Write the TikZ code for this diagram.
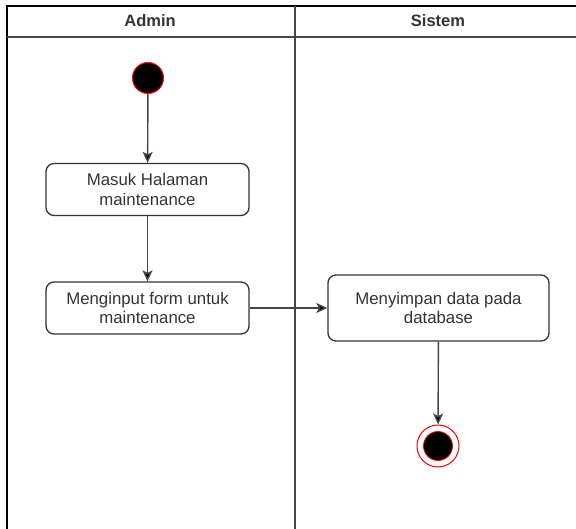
\documentclass[tikz,border=0pt]{standalone}
\usepackage{fontspec}
\setmainfont{Liberation Sans}
\usetikzlibrary{%
        arrows.meta,
        shapes.geometric
    }
\definecolor{textgray}{RGB}{51, 51, 51}
\definecolor{lanegray}{RGB}{70, 70, 70}

\begin{document}
\begin{tikzpicture}[x=1pt, y=-1pt,
        action/.style={draw=textgray, line width=1.3pt, rounded corners=8pt,
            align=center, text=textgray, inner sep=0pt,
            font=\fontsize{16.8}{19.5}\selectfont},
        flow/.style={draw=lanegray, line width=1.4pt,
            -{Stealth[length=11pt, width=10pt, inset=2.5pt, fill=black]}},
        lane/.style={font=\fontsize{16.5}{19}\selectfont\bfseries, text=textgray}
    ]

    \useasboundingbox (0, 0) rectangle (576, 529);

    % swimlanes
    \draw[line width=1.5pt] (577, 6) -- (7, 6) -- (7, 530);
    \draw[line width=1.3pt, lanegray] (7, 37) -- (577, 37);
    \draw[line width=1.6pt, lanegray] (295, 6) -- (295, 530);
    \node[lane] (admin) at (150, 21) {Admin};
    \node[lane] (sistem) at (438, 21) {Sistem};

    \node[circle, fill=black, draw=red, line width=1pt, minimum size=31pt,
        inner sep=0pt] (start) at (148, 78) {};

    \node[action, minimum width=203pt, minimum height=52pt] (masuk)
        at (147.5, 189.5) {Masuk Halaman\\maintenance};
    \node[action, minimum width=203pt, minimum height=52pt] (input)
        at (147.5, 308) {Menginput form untuk\\maintenance};
    \node[action, minimum width=221pt, minimum height=66pt] (simpan)
        at (438.5, 308) {Menyimpan data pada\\database};

    \node[circle, draw=red, line width=1pt, minimum size=42pt, inner sep=0pt]
        (end) at (438, 446) {};
    \fill[black] (end.center) circle (14.5pt);
    \draw[red, line width=0.8pt] (end.center) circle (14.5pt);

    \draw[flow] (start) -- (masuk);
    \draw[flow] (masuk) -- (input);
    \draw[flow] (input) -- (simpan);
    \draw[flow] (simpan) -- (end);

\end{tikzpicture}
\end{document}
